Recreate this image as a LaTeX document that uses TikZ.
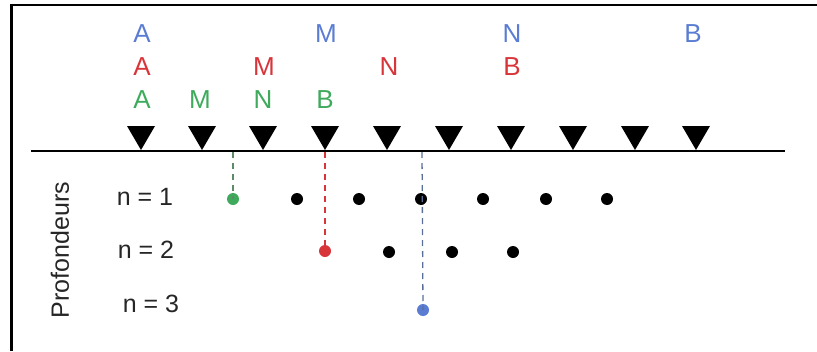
\documentclass[tikz,border=0pt]{standalone}
\usepackage{fontspec}
\setmainfont{Liberation Sans}
\definecolor{cblue}{HTML}{5A7CD2}
\definecolor{cred}{HTML}{D8353B}
\definecolor{cgreen}{HTML}{3FAA5C}
\definecolor{cgreyg}{HTML}{5E8A68}
\definecolor{cgreyb}{HTML}{5A6E9A}
\definecolor{ctext}{HTML}{262626}
\tikzset{
  lbl/.style={font=\fontsize{26}{26}\selectfont, inner sep=0pt, anchor=center},
  nlbl/.style={font=\fontsize{25}{25}\selectfont, inner sep=0pt, text=ctext},
  dot/.style={circle, inner sep=0pt, minimum size=12pt, draw=none},
  vdash/.style={line width=1.3pt, dash pattern=on 6pt off 5pt},
  tri/.style={fill=black}
}
\begin{document}
\begin{tikzpicture}[x=1pt,y=-1pt]
\useasboundingbox (0,0) rectangle (817,351);
% frame
\coordinate (fb) at (11.5,351);
\coordinate (fc) at (11.5,5);
\coordinate (fr) at (817,5);
\draw[line width=2.6pt] (fb) -- (fc) -- (fr);
% ground line
\coordinate (gl) at (31,151);
\coordinate (gr) at (785,151);
\draw[line width=2.8pt] (gl) -- (gr);
% triangles
\foreach \x in {141,202,263,325,387,449,511,573,635,696}{
  \fill[tri] (\x-14,126) -- (\x+14,126) -- (\x,150) -- cycle;
}
% blue row
\node[lbl, text=cblue] (bA) at (142,34) {A};
\node[lbl, text=cblue] (bM) at (326,34) {M};
\node[lbl, text=cblue] (bN) at (512,34) {N};
\node[lbl, text=cblue] (bB) at (693,34) {B};
% red row
\node[lbl, text=cred] (rA) at (142,67) {A};
\node[lbl, text=cred] (rM) at (264,67) {M};
\node[lbl, text=cred] (rN) at (389,67) {N};
\node[lbl, text=cred] (rB) at (512,67) {B};
% green row
\node[lbl, text=cgreen] (gA) at (142,100) {A};
\node[lbl, text=cgreen] (gM) at (200,100) {M};
\node[lbl, text=cgreen] (gN) at (263,100) {N};
\node[lbl, text=cgreen] (gB) at (325,100) {B};
% depth labels
\node[nlbl] (n1) at (145,197) {n = 1};
\node[nlbl] (n2) at (146,250) {n = 2};
\node[nlbl] (n3) at (151,304) {n = 3};
\node[nlbl, rotate=90] (prof) at (60,250) {Profondeurs};
% dots n=1
\node[dot, fill=cgreen] (d1g) at (233,199) {};
\foreach \x/\k in {297/a,359/b,421/c,483/d,546/e,607/f}{
  \node[dot, fill=black] (d1\k) at (\x,199) {};
}
% dots n=2
\node[dot, fill=cred] (d2r) at (325,251) {};
\foreach \x/\k in {389/a,452/b,513/c}{
  \node[dot, fill=black] (d2\k) at (\x,252) {};
}
% dot n=3
\node[dot, fill=cblue] (d3b) at (423,310) {};
% dashed verticals
\coordinate (tg) at (233,152);
\coordinate (tr) at (325,152);
\coordinate (tb) at (422,152);
\draw[vdash, cgreyg] (tg) -- (d1g.center);
\draw[vdash, cred] (tr) -- (d2r.center);
\draw[vdash, cgreyb] (tb) -- (d3b.center);
\end{tikzpicture}
\end{document}
